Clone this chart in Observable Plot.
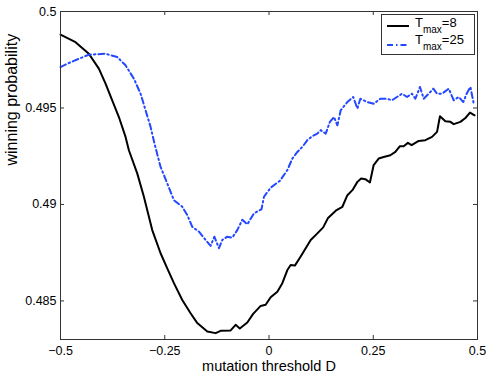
<!DOCTYPE html>
<html>
<head>
<meta charset="utf-8">
<script src="https://cdn.jsdelivr.net/npm/d3@7"></script>
<script src="https://cdn.jsdelivr.net/npm/@observablehq/plot@0.6"></script>
<style>
  html, body { margin: 0; padding: 0; background: white; }
</style>
</head>
<body>
<div id="chart"></div>
<script>
// ---- data ----
const xTicks = [-0.5, -0.25, 0, 0.25, 0.5];
const xTickLabels = ["\u22120.5", "\u22120.25", "0", "0.25", "0.5"];
const yTicks = [0.485, 0.49, 0.495, 0.5];
const yTickLabels = ["0.485", "0.49", "0.495", "0.5"];

const seriesNames = ["8", "25"];

const dT8 = [-0.500,-0.464,-0.432,-0.408,-0.392,-0.376,-0.360,-0.344,-0.336,-0.316,-0.300,-0.280,-0.260,-0.244,-0.228,-0.208,-0.188,-0.172,-0.148,-0.128,-0.116,-0.092,-0.080,-0.070,-0.052,-0.038,-0.020,-0.008,0.004,0.020,0.032,0.044,0.052,0.062,0.076,0.100,0.116,0.130,0.141,0.162,0.176,0.188,0.200,0.212,0.221,0.231,0.242,0.251,0.263,0.275,0.291,0.303,0.314,0.323,0.333,0.342,0.359,0.375,0.391,0.403,0.410,0.423,0.435,0.443,0.459,0.471,0.482,0.493];
const pT8 = [0.4988,0.49841,0.49781,0.49704,0.49626,0.4954,0.49453,0.4935,0.49281,0.49161,0.4904,0.48867,0.48747,0.48669,0.48592,0.48505,0.48436,0.48385,0.48341,0.48333,0.48345,0.48347,0.48376,0.48357,0.48388,0.48433,0.48474,0.4848,0.48519,0.48548,0.48592,0.4866,0.48686,0.48683,0.4873,0.48816,0.4885,0.48881,0.48928,0.48971,0.48988,0.49048,0.49074,0.49117,0.49135,0.49131,0.49114,0.49204,0.49238,0.49246,0.49255,0.49272,0.49302,0.49302,0.49319,0.49307,0.49329,0.49333,0.4935,0.49376,0.49457,0.49431,0.49428,0.49416,0.49428,0.49448,0.49476,0.49462];

const dT25 = [-0.500,-0.480,-0.456,-0.432,-0.392,-0.364,-0.344,-0.324,-0.308,-0.296,-0.284,-0.274,-0.260,-0.244,-0.228,-0.208,-0.196,-0.184,-0.168,-0.152,-0.140,-0.131,-0.120,-0.112,-0.100,-0.088,-0.076,-0.064,-0.052,-0.036,-0.018,-0.012,0.004,0.026,0.044,0.056,0.068,0.080,0.092,0.104,0.116,0.124,0.136,0.146,0.156,0.164,0.172,0.188,0.202,0.212,0.219,0.235,0.251,0.267,0.283,0.295,0.307,0.319,0.331,0.343,0.351,0.362,0.371,0.383,0.394,0.403,0.415,0.431,0.443,0.455,0.466,0.474,0.483,0.491];
const pT25 = [0.49712,0.49733,0.49755,0.49776,0.49781,0.49764,0.49721,0.49652,0.49574,0.49488,0.49402,0.4931,0.49195,0.49109,0.49022,0.48988,0.48945,0.48884,0.48859,0.48816,0.48785,0.48833,0.48773,0.48816,0.48833,0.48828,0.48867,0.48921,0.48897,0.48954,0.48975,0.4904,0.49087,0.49122,0.49178,0.49238,0.49272,0.49298,0.49333,0.49354,0.49367,0.49385,0.49367,0.49428,0.49453,0.4941,0.49488,0.49531,0.49557,0.49497,0.49548,0.49531,0.49522,0.49548,0.49548,0.4954,0.49557,0.49574,0.49557,0.49574,0.49548,0.49609,0.49548,0.49574,0.496,0.49574,0.49574,0.496,0.4954,0.49557,0.49531,0.49574,0.49609,0.49522];

// ---- build tables ----
const t8 = dT8.map((d, i) => ({D: d, p: pT8[i]}));
const t25 = dT25.map((d, i) => ({D: d, p: pT25[i]}));

const W = 491, H = 376;
const mL = 60, mR = 14, mT = 11, mB = 37;
const innerW = W - mL - mR, innerH = H - mT - mB;
const tick = 4;
const font = "'Liberation Sans', Arial, Helvetica, sans-serif";
const blue = "#2448ff";

const chart = Plot.plot({
  width: W,
  height: H,
  marginLeft: mL,
  marginRight: mR,
  marginTop: mT,
  marginBottom: mB,
  style: {fontFamily: font, fontSize: "12.5px", background: "white", color: "black"},
  x: {domain: [-0.5, 0.5]},
  y: {domain: [0.483, 0.5]},
  marks: [
    Plot.axisX(xTicks, {tickSize: 0, tickPadding: 7, tickFormat: d => xTickLabels[xTicks.indexOf(d)], label: null, fontSize: 12.5}),
    Plot.axisY(yTicks, {tickSize: 0, tickPadding: 4, tickFormat: d => yTickLabels[yTicks.indexOf(d)], label: null, fontSize: 12.5}),
    Plot.tickX(xTicks, {x: d => d, insetTop: innerH - tick, stroke: "#333"}),
    Plot.tickX(xTicks, {x: d => d, insetBottom: innerH - tick, stroke: "#333"}),
    Plot.tickY(yTicks, {y: d => d, insetRight: innerW - tick, stroke: "#333"}),
    Plot.tickY(yTicks, {y: d => d, insetLeft: innerW - tick, stroke: "#333"}),
    Plot.line(t8, {x: "D", y: "p", stroke: "black", strokeWidth: 2}),
    Plot.line(t25, {x: "D", y: "p", stroke: blue, strokeWidth: 2, strokeDasharray: "6,3,1.5,3"}),
    Plot.frame({stroke: "#333"}),
    Plot.text(["mutation threshold D"], {frameAnchor: "bottom", dy: 31.5, lineAnchor: "bottom", fontSize: 14.5}),
    Plot.text(["winning probability"], {frameAnchor: "left", dx: 16.5 - mL, dy: -10, rotate: -90, lineAnchor: "bottom", fontSize: 16})
  ]
});

document.getElementById("chart").appendChild(chart);

// ---- legend (inside the axes, top-right) ----
const svg = d3.select(chart);
const lg = svg.append("g").attr("font-family", font).attr("fill", "black").attr("text-anchor", "start");
const bx = 381, by = 14, bw = 93, bh = 40;
lg.append("rect").attr("x", bx + 0.5).attr("y", by + 0.5).attr("width", bw).attr("height", bh)
  .attr("fill", "white").attr("stroke", "#333");
const rows = [
  {name: seriesNames[0], color: "black", dash: null, ly: 26, ty: 27},
  {name: seriesNames[1], color: blue, dash: "6,3,1.5,3", ly: 45, ty: 44}
];
rows.forEach(r => {
  const ln = lg.append("line").attr("x1", 387).attr("x2", 409).attr("y1", r.ly).attr("y2", r.ly)
    .attr("stroke", r.color).attr("stroke-width", 2);
  if (r.dash) ln.attr("stroke-dasharray", r.dash);
  const t = lg.append("text").attr("x", 415).attr("y", r.ty).attr("font-size", 13).attr("text-anchor", "start");
  t.append("tspan").text("T");
  t.append("tspan").attr("font-size", 10).attr("dy", 6).text("max");
  t.append("tspan").attr("dy", -6).text("=" + r.name);
});
</script>
</body>
</html>
